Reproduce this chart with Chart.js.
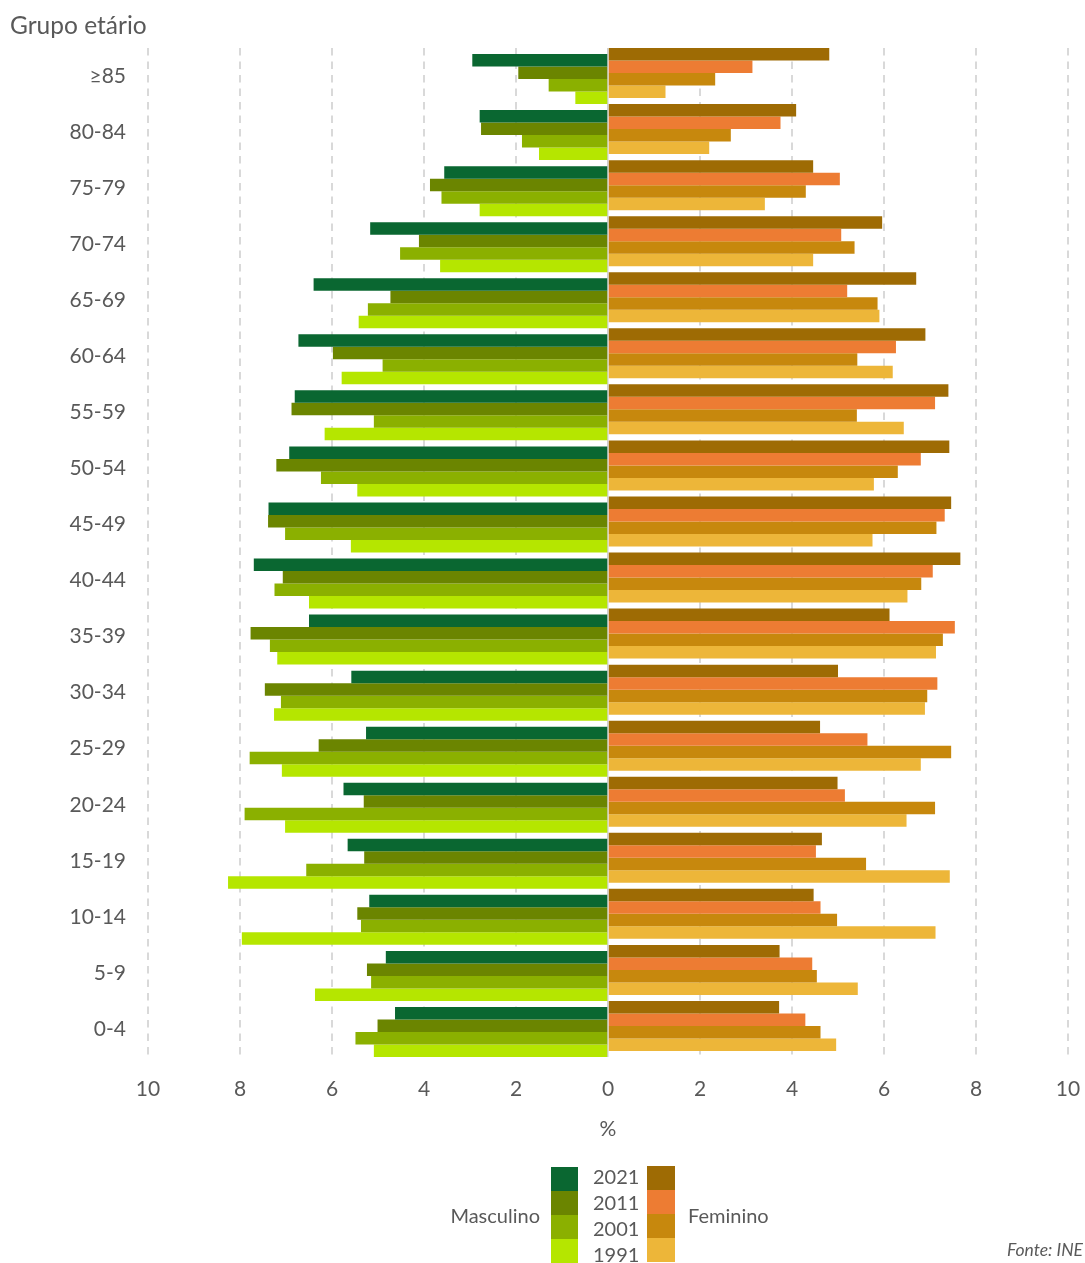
<!DOCTYPE html>
<html lang="pt">
<head>
<meta charset="utf-8">
<title>Pirâmide etária</title>
<script src="https://cdn.jsdelivr.net/npm/chart.js@4"></script>
<style>
  html, body { margin: 0; padding: 0; background: #fff; }
  body { width: 1085px; height: 1263px; position: relative; overflow: hidden;
         font-family: Lato, "Open Sans", sans-serif; color: #595959; }
  #chart { position: absolute; left: 0; top: 0; }
  .txt { position: absolute; white-space: nowrap; line-height: 1; }
  .sw { position: absolute; }
</style>
</head>
<body>
<canvas id="chart" width="1085" height="1263"></canvas>
<div class="txt" id="yTitle" style="left:10px; top:13px; font-size:24.5px;">Grupo etário</div>
<div id="legend"></div>
<div class="txt" style="right:2px; top:1241px; font-size:17.5px; font-style:italic;">Fonte: INE</div>
<script>
// Age groups, oldest at the top
const categories = ['≥85', '80-84', '75-79', '70-74', '65-69', '60-64', '55-59', '50-54', '45-49',
                    '40-44', '35-39', '30-34', '25-29', '20-24', '15-19', '10-14', '5-9', '0-4'];
const years = ['2021', '2011', '2001', '1991'];

// Share of each sex's population by age group (%)
const male2021 = [2.95, 2.79, 3.56, 5.17, 6.40, 6.73, 6.81, 6.93, 7.38, 7.70, 6.50, 5.58, 5.26, 5.75, 5.66, 5.19, 4.83, 4.63];
const male2011 = [1.95, 2.76, 3.87, 4.11, 4.73, 5.98, 6.88, 7.21, 7.39, 7.07, 7.77, 7.46, 6.29, 5.31, 5.30, 5.45, 5.24, 5.01];
const male2001 = [1.29, 1.87, 3.62, 4.52, 5.22, 4.90, 5.09, 6.24, 7.02, 7.25, 7.35, 7.11, 7.79, 7.90, 6.56, 5.37, 5.15, 5.49];
const male1991 = [0.71, 1.50, 2.79, 3.65, 5.42, 5.79, 6.16, 5.45, 5.59, 6.50, 7.19, 7.26, 7.09, 7.02, 8.26, 7.96, 6.37, 5.09];

const female2021 = [4.81, 4.09, 4.46, 5.96, 6.70, 6.90, 7.40, 7.42, 7.46, 7.66, 6.12, 5.00, 4.61, 4.99, 4.65, 4.47, 3.73, 3.72];
const female2011 = [3.14, 3.75, 5.04, 5.07, 5.20, 6.26, 7.11, 6.80, 7.32, 7.06, 7.54, 7.16, 5.64, 5.15, 4.52, 4.62, 4.44, 4.29];
const female2001 = [2.33, 2.67, 4.30, 5.36, 5.86, 5.42, 5.41, 6.30, 7.14, 6.81, 7.28, 6.94, 7.46, 7.11, 5.61, 4.98, 4.54, 4.62];
const female1991 = [1.25, 2.20, 3.41, 4.46, 5.90, 6.19, 6.43, 5.78, 5.75, 6.51, 7.13, 6.89, 6.80, 6.49, 7.43, 7.12, 5.43, 4.96];

const maleSeries = [male2021, male2011, male2001, male1991];
const femaleSeries = [female2021, female2011, female2001, female1991];
const maleColors = ['#0a6731', '#6b8500', '#8bb000', '#b5e600'];
const femaleColors = ['#9e6b04', '#ed7c33', '#c7880d', '#edb639'];

const TEXT = '#595959';
const FONT = 'Lato, "Open Sans", sans-serif';

const datasets = [];
years.forEach((yr, i) => {
  datasets.push({
    label: 'Masculino ' + yr,
    sex: 'M',
    stack: yr,
    data: maleSeries[i].map(v => -v),
    backgroundColor: maleColors[i]
  });
});
years.forEach((yr, i) => {
  datasets.push({
    label: 'Feminino ' + yr,
    sex: 'F',
    stack: yr,
    data: femaleSeries[i],
    backgroundColor: femaleColors[i]
  });
});

// Male bars sit slightly lower than female bars within each age group
const sexShift = {
  id: 'sexShift',
  beforeDatasetDraw(chart, args) {
    const ds = chart.data.datasets[args.index];
    chart.ctx.save();
    chart.ctx.translate(0, ds.sex === 'M' ? 3 : -3);
  },
  afterDatasetDraw(chart) {
    chart.ctx.restore();
  }
};

new Chart(document.getElementById('chart'), {
  type: 'bar',
  data: { labels: categories, datasets },
  plugins: [sexShift],
  options: {
    indexAxis: 'y',
    responsive: false,
    animation: false,
    layout: { padding: { top: 48, right: 17, bottom: 121, left: 0 } },
    datasets: {
      bar: { categoryPercentage: 0.892, barPercentage: 1.0, borderWidth: 0 }
    },
    plugins: {
      legend: { display: false },
      tooltip: { enabled: false },
      title: { display: false }
    },
    scales: {
      x: {
        type: 'linear',
        min: -10,
        max: 10,
        afterFit(scale) {
          scale.height = 85;
          scale.paddingLeft = 0;
          scale.paddingRight = 0;
        },
        ticks: {
          stepSize: 2,
          padding: 20,
          color: TEXT,
          font: { family: FONT, size: 21 },
          callback: v => String(Math.abs(v))
        },
        grid: {
          drawTicks: false,
          color: ctx => ctx.tick && ctx.tick.value === 0 ? '#cfcfcf' : '#d9d9d9',
          lineWidth: ctx => ctx.tick && ctx.tick.value === 0 ? 1.5 : 2
        },
        border: {
          display: false,
          dash: ctx => ctx.tick && ctx.tick.value === 0 ? [] : [7.5, 6]
        },
        title: {
          display: true,
          text: '%',
          color: TEXT,
          font: { family: FONT, size: 21 },
          padding: 0
        }
      },
      y: {
        type: 'category',
        afterFit(scale) { scale.width = 148; },
        ticks: {
          padding: 22,
          color: TEXT,
          font: { family: FONT, size: 21 }
        },
        grid: { display: false, drawTicks: false },
        border: { display: false }
      }
    }
  }
});

// Legend: stacked colour keys for each sex with the census years between them
const legend = document.getElementById('legend');
function addBox(cls, style, text) {
  const el = document.createElement('div');
  el.className = cls;
  Object.assign(el.style, style);
  if (text) el.textContent = text;
  legend.appendChild(el);
  return el;
}
addBox('txt', { right: (1085 - 540) + 'px', top: '1205px', fontSize: '20px' }, 'Masculino');
addBox('txt', { left: '688px', top: '1205px', fontSize: '20px' }, 'Feminino');
years.forEach((yr, i) => {
  addBox('sw', { left: '551px', top: (1167 + i * 24) + 'px', width: '27px', height: '24px', background: maleColors[i] });
  addBox('sw', { left: '647px', top: (1166 + i * 24) + 'px', width: '28px', height: '24px', background: femaleColors[i] });
  addBox('txt', { left: '593px', top: (1166 + i * 26) + 'px', fontSize: '20px' }, yr);
});
</script>
</body>
</html>
